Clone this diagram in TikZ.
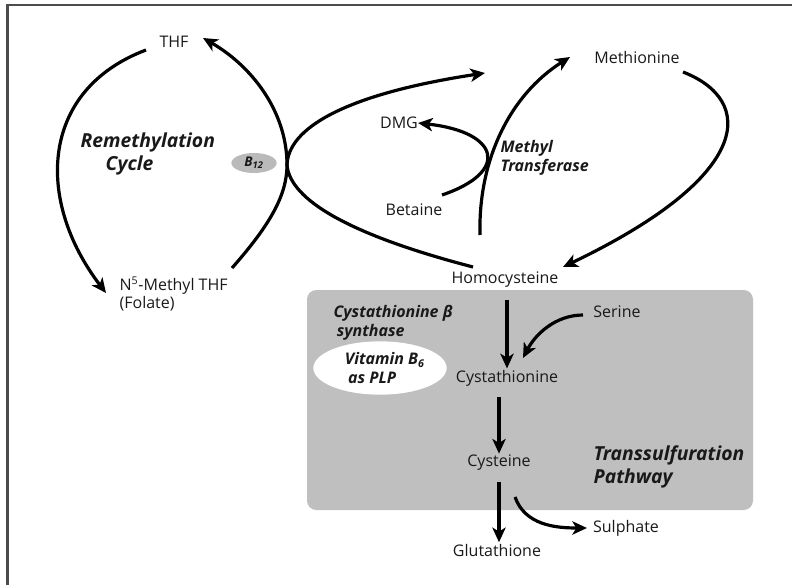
\documentclass[tikz,border=0pt]{standalone}
\usepackage{fontspec}
\setmainfont{Open Sans}
\usetikzlibrary{arrows.meta,shapes.geometric}

\begin{document}
\begin{tikzpicture}[x=0.75pt,y=-0.75pt,font=\fontsize{12}{14}\selectfont,
  every node/.style={inner sep=1pt,text=black!90},
  flow/.style={line width=2.4pt,-{Stealth[length=11pt,width=10pt,inset=3pt]}},
  enzyme/.style={font=\fontsize{12}{14}\selectfont\bfseries\itshape,align=left},
  cycle/.style={font=\fontsize{14.5}{17}\selectfont\bfseries\itshape,align=left}]
  \useasboundingbox (0,0) rectangle (792,585);
  % frame
  \draw[black!70,line width=1.6pt] (7.5,585) -- (7.5,5) -- (792,5);
  % transsulfuration box
  \fill[black!25,rounded corners=7pt] (307,290) rectangle (753,510);

  % metabolites
  \node (thf) at (174,42) {THF};
  \node[anchor=west,align=left] (mthf) at (118,294) {N\textsuperscript{5}-Methyl THF\\(Folate)};
  \node (methionine) at (637,58) {Methionine};
  \node (dmg) at (399,123) {DMG};
  \node (betaine) at (414,210) {Betaine};
  \node (homocys) at (505,280) {Homocysteine};
  \node (serine) at (617,312) {Serine};
  \node (cystath) at (507,378) {Cystathionine};
  \node (cysteine) at (499,463) {Cysteine};
  \node (glutath) at (497,550) {Glutathione};
  \node (sulphate) at (626,528) {Sulphate};

  % labels
  \node[cycle,anchor=west] (remcyc) at (79,154) {Remethylation\\\hspace*{1.3em}Cycle};
  \node[ellipse,fill=black!27,minimum width=34pt,minimum height=15pt,inner sep=0pt,
        font=\fontsize{10}{12}\selectfont\bfseries\itshape] (b12) at (254,163) {B\textsubscript{12}};
  \node[enzyme,anchor=west] (mtrans) at (499,158) {Methyl\\Transferase};
  \node[enzyme,anchor=west] (cbs) at (332,323) {Cystathionine β\\\hspace*{0.2em}synthase};
  \node[ellipse,fill=white,minimum width=100pt,minimum height=40pt,inner sep=0pt,
        enzyme] (plp) at (380,368) {\hspace*{0.6em}Vitamin B\textsubscript{6}\\\hspace*{0.8em}as PLP};
  \node[cycle,anchor=west] (tsp) at (592,467) {Transsulfuration\\Pathway};

  % free ends of the curved connectors
  \coordinate (thf-l) at (146,50);
  \coordinate (thf-r) at (203,38);
  \coordinate (mthf-l) at (106,293);
  \coordinate (mthf-r) at (232,268);
  \coordinate (b12-x) at (287,165);
  \coordinate (hcy-l) at (473,267);
  \coordinate (hcy-u) at (480,235);
  \coordinate (hcy-r) at (563,267);
  \coordinate (met-l) at (485,73);
  \coordinate (met-b) at (570,57);
  \coordinate (met-r) at (683,72);
  \coordinate (bet-r) at (442,195);
  \coordinate (dmg-r) at (418,123);
  \coordinate (ser-l) at (583,315);
  \coordinate (cyt-r) at (523,358);
  \coordinate (cys-r) at (515,497);
  \coordinate (sul-l) at (587,528);

  % remethylation cycle
  \draw[flow] (thf-l) .. controls (40,90) and (35,200) .. (mthf-l);
  \draw[flow] (mthf-r) .. controls (270,225) and (287,195) .. (b12-x)
                       .. controls (287,110) and (250,65) .. (thf-r);
  \draw[flow] (hcy-l) .. controls (350,235) and (290,200) .. (b12-x)
                      .. controls (288,130) and (340,95) .. (met-l);
  \draw[flow] (hcy-u) .. controls (478,160) and (510,95) .. (met-b);
  \draw[flow] (bet-r) .. controls (510,172) and (500,132) .. (dmg-r);
  \draw[flow] (met-r) .. controls (755,100) and (755,175) .. (hcy-r);

  % transsulfuration
  \draw[flow,shorten <=8pt] (cystath.north |- homocys.south) -- (cystath.north);
  \draw[flow,shorten <=7pt] (cysteine.north |- cystath.south) -- (cysteine.north);
  \draw[flow,shorten <=7pt] (cysteine.south) -- (cysteine.south |- glutath.north);
  \draw[flow] (ser-l) .. controls (555,315) and (535,335) .. (cyt-r);
  \draw[flow] (cys-r) .. controls (525,525) and (555,528) .. (sul-l);
\end{tikzpicture}
\end{document}
